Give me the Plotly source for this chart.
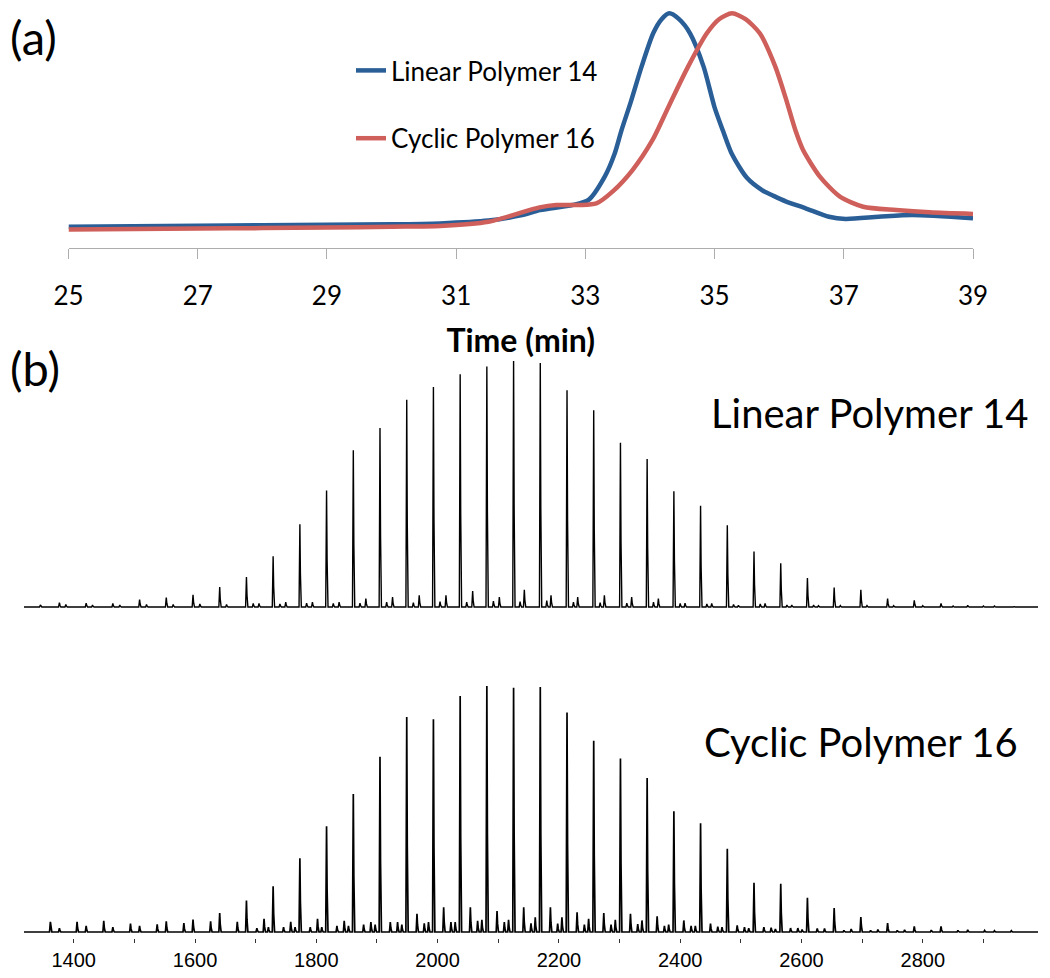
import plotly.graph_objects as go

# ---------------- data: panel (a) GPC traces ----------------
TIME_LIN = [25.0, 26.0, 27.0, 28.0, 29.0, 30.0, 30.75, 31.5, 32.0, 32.3, 32.8, 33.05, 33.3, 33.45,
            33.56, 33.7, 33.87, 34.05, 34.18, 34.3, 34.45, 34.62, 34.83, 35.0, 35.13, 35.27, 35.5,
            35.75, 35.9, 36.1, 36.41, 36.77, 37.03, 37.54, 38.06, 39.0]
RI_LIN = [0.092, 0.094, 0.096, 0.098, 0.100, 0.102, 0.106, 0.118, 0.140, 0.163, 0.184, 0.206,
          0.305, 0.400, 0.503, 0.620, 0.773, 0.915, 0.975, 1.000, 0.975, 0.915, 0.773, 0.600,
          0.500, 0.400, 0.300, 0.245, 0.225, 0.200, 0.170, 0.134, 0.125, 0.134, 0.142, 0.128]

TIME_CYC = [25.0, 26.0, 27.0, 28.0, 29.0, 30.0, 30.75, 31.5, 32.29, 32.55, 32.91, 33.17, 33.42,
            33.73, 34.04, 34.3, 34.59, 34.88, 35.07, 35.27, 35.48, 35.70, 35.94, 36.1, 36.25,
            36.37, 36.63, 36.94, 37.30, 37.81, 38.33, 39.0]
RI_CYC = [0.080, 0.082, 0.084, 0.086, 0.088, 0.092, 0.095, 0.113, 0.174, 0.184, 0.184, 0.191,
          0.241, 0.333, 0.461, 0.610, 0.773, 0.915, 0.975, 1.000, 0.975, 0.915, 0.773, 0.640,
          0.503, 0.418, 0.305, 0.220, 0.177, 0.163, 0.153, 0.146]

TIME_TICKS = [25, 27, 29, 31, 33, 35, 37, 39]
SERIES_NAMES = ["Linear Polymer 14", "Cyclic Polymer 16"]

# ---------------- data: panel (b) MALDI spectra ----------------
MAIN_MZ = [1376.4, 1420.5, 1464.5, 1508.6, 1552.6, 1596.7, 1640.7, 1684.8, 1728.8, 1772.9,
           1816.9, 1861.0, 1905.0, 1949.1, 1993.1, 2037.2, 2081.2, 2125.3, 2169.3, 2213.4,
           2257.4, 2301.5, 2345.5, 2389.6, 2433.6, 2477.7, 2521.7, 2565.8, 2609.8, 2653.9,
           2697.9, 2742.0, 2786.0, 2830.1, 2874.1, 2918.2]
LIN_MAIN_H = [1.8, 1.6, 1.4, 3.0, 3.8, 5.0, 8.1, 12.2, 20.6, 33.6,
              47.4, 63.7, 72.8, 84.3, 89.4, 94.6, 97.8, 100.0, 99.2, 88.1,
              80.0, 66.8, 60.2, 47.0, 41.2, 33.2, 22.6, 17.8, 11.8, 7.9,
              7.0, 3.4, 2.7, 1.4, 0.7, 0.4]
CYC_MAIN_H = [1.5, 2.5, 2.0, 2.5, 4.3, 5.1, 7.7, 12.8, 18.6, 30.0,
              43.0, 56.1, 71.2, 87.4, 86.5, 95.9, 100.0, 99.3, 99.6, 89.2,
              77.7, 70.5, 62.6, 49.1, 44.2, 33.8, 20.0, 19.6, 13.9, 9.7,
              6.1, 3.6, 2.3, 2.3, 0.9, 0.5]

LIN_SIDE_MZ = [1705.5, 1749.6, 1793.6, 1837.6, 1881.7, 1925.7, 1969.7, 2013.8, 2057.8, 2101.8,
               2143.0, 2187.0, 2231.0, 2275.0, 2320.0, 2364.0, 2408.0, 2452.0, 2496.0, 2540.0,
               2584.0, 2628.0]
LIN_SIDE_H = [1.4, 2.0, 2.0, 2.0, 3.4, 4.0, 4.7, 4.7, 6.5, 4.0,
              7.0, 4.7, 4.0, 4.7, 4.0, 3.4, 1.6, 1.4, 0.7, 1.4,
              0.8, 0.5]
LIN_MINOR_MZ = [1345, 1387, 1431, 1476, 1520, 1564, 1608, 1652, 1696, 1740,
                1784, 1828, 1872, 1916, 1960, 2004, 2048, 2092, 2136, 2180,
                2224, 2268, 2312, 2356, 2400, 2444, 2488, 2532, 2576, 2620,
                2664, 2708, 2752, 2800, 2850, 2900, 2950]
LIN_MINOR_H = [0.8, 1.0, 0.8, 0.8, 1.0, 1.0, 1.2, 1.0, 1.4, 1.2,
               1.6, 1.4, 1.6, 2.0, 1.8, 2.2, 2.0, 2.4, 2.2, 2.6,
               2.0, 1.8, 1.6, 2.0, 1.4, 1.2, 1.0, 1.2, 0.8, 0.8,
               0.6, 0.6, 0.5, 0.5, 0.4, 0.4, 0.3]

CYC_SIDE_A_MZ = [1702, 1746, 1790, 1834, 1878, 1922, 1966, 2010, 2054, 2098,
                 2142, 2186, 2230, 2274, 2318, 2362, 2406, 2450, 2494, 2538,
                 2582, 2626, 2670, 2714, 2758]
CYC_SIDE_A_H = [1.5, 2.0, 2.0, 2.5, 3.0, 4.0, 7.4, 10.0, 10.0, 8.5,
                10.0, 10.0, 8.0, 7.7, 7.4, 6.4, 4.7, 3.4, 2.7, 2.0,
                1.6, 1.4, 0.7, 0.7, 0.7]
CYC_SIDE_B_MZ = [1361.5, 1405.5, 1449.5, 1493.6, 1537.6, 1581.6, 1625.7, 1669.7, 1713.8, 1757.8,
                 1802.0, 1846.0, 1890.0, 1934.0, 1978.0, 2022.0, 2066.0, 2110.0, 2154.0, 2198.0,
                 2242.0, 2286.0, 2330.0, 2374.0, 2418.0, 2462.0, 2506.0, 2550.0, 2594.0, 2638.0,
                 2682.0, 2726.0, 2770.0, 2814.0, 2858.0, 2902.0, 2946.0]
CYC_SIDE_B_H = [4.1, 4.1, 4.5, 3.4, 3.1, 3.6, 4.3, 4.1, 5.4, 4.1,
                5.4, 4.5, 4.0, 4.0, 3.5, 4.0, 4.5, 4.0, 3.5, 3.4,
                3.0, 3.0, 3.2, 2.5, 2.5, 2.2, 2.0, 1.8, 1.6, 1.4,
                1.2, 1.0, 0.9, 0.8, 0.7, 0.6, 0.5]
CYC_SIDE_C_MZ = [1721, 1765, 1809, 1853, 1897, 1941, 1985, 2029, 2073, 2117,
                 2161, 2205, 2249, 2293, 2337, 2381, 2425, 2469, 2513, 2557, 2601]
CYC_SIDE_C_H = [2.0, 2.0, 2.0, 2.5, 3.0, 3.0, 4.0, 4.0, 5.0, 5.0,
                6.0, 6.0, 5.4, 5.0, 4.7, 3.0, 2.5, 2.0, 1.5, 1.2, 1.0]

MZ_RANGE = [1318, 2990]
MZ_TICKS = [1400, 1500, 1600, 1700, 1800, 1900, 2000, 2100, 2200, 2300, 2400, 2500, 2600, 2700, 2800, 2900]
MZ_TICKTEXT = ["1400", "", "1600", "", "1800", "", "2000", "", "2200", "", "2400", "", "2600", "", "2800", ""]

# ---------------- styling ----------------
W, H = 1050, 978
OX, OY = 8, 8          # the page body adds an 8px margin around the figure
BLUE = "#2A5E97"
RED = "#CF5F5A"
AXIS_GREY = "#ADADAD"
FONT = "Lato"


def px_x(px):
    return (px - OX) / W


def px_y(py):
    return 1 - (py - OY) / H


def ydom(px_bottom, px_top):
    return [max(0.0, px_y(px_bottom)), min(1.0, px_y(px_top))]


def stick_spectrum(groups, lo, hi):
    """Turn peak lists into a stick-spectrum polyline."""
    peaks = sorted((m, h) for mz, hs in groups for m, h in zip(mz, hs))
    xs, ys = [lo], [0.0]
    for m, h in peaks:
        xs += [m - 1.4, m, m + 0.9, m + 2.4]
        ys += [0.0, h, 0.4 * h, 0.0]
    xs.append(hi)
    ys.append(0.0)
    return xs, ys


fig = go.Figure()

fig.add_trace(go.Scatter(x=TIME_LIN, y=RI_LIN, mode="lines", name=SERIES_NAMES[0], legendgroup="a",
                         line=dict(color=BLUE, width=4.5, shape="spline", smoothing=0.7),
                         xaxis="x", yaxis="y"))
fig.add_trace(go.Scatter(x=TIME_CYC, y=RI_CYC, mode="lines", name=SERIES_NAMES[1], legendgroup="b",
                         line=dict(color=RED, width=4.5, shape="spline", smoothing=0.7),
                         xaxis="x", yaxis="y"))

lx, ly = stick_spectrum([(MAIN_MZ, LIN_MAIN_H), (LIN_SIDE_MZ, LIN_SIDE_H), (LIN_MINOR_MZ, LIN_MINOR_H)],
                        MZ_RANGE[0], MZ_RANGE[1])
fig.add_trace(go.Scatter(x=lx, y=ly, mode="lines", line=dict(color="black", width=1.4),
                         showlegend=False, xaxis="x2", yaxis="y2", hoverinfo="skip"))

cx, cy = stick_spectrum([(MAIN_MZ, CYC_MAIN_H), (CYC_SIDE_A_MZ, CYC_SIDE_A_H),
                         (CYC_SIDE_B_MZ, CYC_SIDE_B_H), (CYC_SIDE_C_MZ, CYC_SIDE_C_H)],
                        MZ_RANGE[0], MZ_RANGE[1])
fig.add_trace(go.Scatter(x=cx, y=cy, mode="lines", line=dict(color="black", width=1.7),
                         showlegend=False, xaxis="x3", yaxis="y3", hoverinfo="skip"))

# top panel: value 0 at y=248.3px, value 1 at 13.3px; plot area top at page y = OY
top_val = (248.3 - OY) / 235.0

fig.update_layout(
    width=W, height=H,
    margin=dict(l=0, r=0, t=0, b=0, pad=0, autoexpand=False),
    paper_bgcolor="white", plot_bgcolor="white",
    font=dict(family=FONT, color="black"),
    xaxis=dict(domain=[px_x(68.5), px_x(973)], range=[25, 39], tickvals=TIME_TICKS,
               showline=True, linecolor=AXIS_GREY, linewidth=1.3,
               ticks="outside", ticklen=10, tickcolor=AXIS_GREY, tickwidth=1.3,
               tickfont=dict(family=FONT, size=26, color="black"), ticklabelstandoff=14,
               showgrid=False, zeroline=False, anchor="y", automargin=False,
               title=dict(text="<b>Time (min)</b>", font=dict(family=FONT, size=32, color="black"),
                          standoff=19)),
    yaxis=dict(domain=ydom(248.3, OY), range=[0, top_val], visible=False, anchor="x", automargin=False),
    xaxis2=dict(domain=[px_x(24), px_x(1038)], range=MZ_RANGE, visible=False, anchor="y2", automargin=False),
    yaxis2=dict(domain=ydom(611.9, 356.1), range=[-2.0, 102], visible=False, anchor="x2", automargin=False),
    xaxis3=dict(domain=[px_x(24), px_x(1038)], range=MZ_RANGE, tickvals=MZ_TICKS, ticktext=MZ_TICKTEXT,
                ticks="outside", ticklen=4, tickcolor="#333333", tickwidth=1,
                showline=False, showgrid=False, zeroline=False,
                tickfont=dict(family="Liberation Sans", size=20, color="black"),
                ticklabelstandoff=0, anchor="y3", automargin=False),
    yaxis3=dict(domain=ydom(938, 681.1), range=[-2.44, 102], visible=False, anchor="x3", automargin=False),
    legend=dict(x=px_x(351), y=px_y(47), xanchor="left", yanchor="top",
                font=dict(family=FONT, size=26, color="black"),
                bgcolor="rgba(0,0,0,0)", tracegroupgap=31, itemwidth=30),
    showlegend=True,
)

annots = [
    dict(text="(a)", x=9, y=8, xanchor="left", yanchor="top", size=47),
    dict(text="(b)", x=9, y=368, xanchor="left", yanchor="middle", size=47),
    dict(text="Linear Polymer 14", x=1030, y=413, xanchor="right", yanchor="middle", size=40),
    dict(text="Cyclic Polymer 16", x=1019, y=742, xanchor="right", yanchor="middle", size=40),
]
for a in annots:
    fig.add_annotation(text=a["text"], x=px_x(a["x"]), y=px_y(a["y"]), xref="paper", yref="paper",
                       xanchor=a["xanchor"], yanchor=a["yanchor"], showarrow=False, borderpad=0,
                       font=dict(family=FONT, size=a["size"], color="black"))

fig.write_html("out.html")
